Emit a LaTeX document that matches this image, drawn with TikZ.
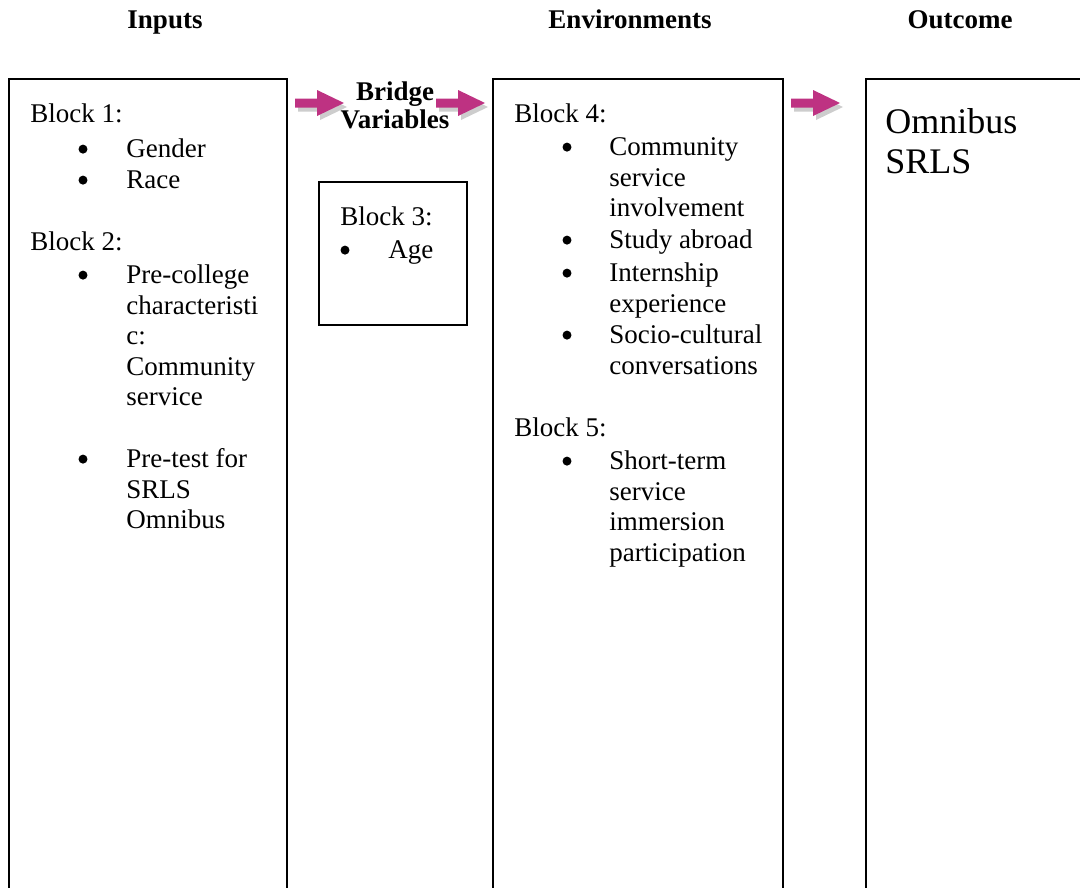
\documentclass[tikz,border=0pt]{standalone}
\usepackage{fontspec}
\setmainfont{Liberation Serif}
\usepackage{tikz}
\usetikzlibrary{positioning}

\definecolor{arrowpink}{RGB}{190,50,130}
\definecolor{shadowgray}{RGB}{205,205,205}
\newcommand{\body}{\fontsize{12}{13.6}\selectfont}
\newcommand{\pinkarrow}[2]{% start x, centre y
  \fill[shadowgray,shift={(#1+3,#2+4)}] (0,-4.5) -- (22,-4.5) -- (22,-13) -- (49,0) -- (22,13) -- (22,4.5) -- (0,4.5) -- cycle;
  \fill[arrowpink,shift={(#1,#2)}] (0,-4.5) -- (22,-4.5) -- (22,-13) -- (49,0) -- (22,13) -- (22,4.5) -- (0,4.5) -- cycle;}

\begin{document}
\begin{tikzpicture}[x=0.4444pt,y=-0.4444pt,
    txt/.style={anchor=base west,inner sep=0pt,font=\body},
    lst/.style={anchor=north west,inner sep=0pt,align=left,font=\body,yshift=9.52pt},
    dot/.style={circle,fill=black,inner sep=0pt,minimum size=4pt,yshift=3.5pt},
    head/.style={anchor=base,inner sep=0pt,font=\body\bfseries},
    frame/.style={draw=black,line width=0.9pt}]
  \useasboundingbox (0,0) rectangle (1080,888);

  %headings
  \node[head] (inputs) at (165,28) {Inputs};
  \node[head] (envs) at (630,28) {Environments};
  \node[head] (outcome) at (960,28) {Outcome};

  %columns
  \draw[frame] (9,888) |- (287,79) -- (287,888);
  \draw[frame] (493,888) |- (783,79) -- (783,888);
  \draw[frame] (866,888) |- (1082,79);
  \draw[frame] (319,182) rectangle (467,325);

  %arrows
  \pinkarrow{295}{103}
  \pinkarrow{436}{103}
  \pinkarrow{791}{103}
  \node[anchor=north,inner sep=0pt,align=center,font=\fontsize{12}{12.6}\selectfont\bfseries,yshift=8.8pt] (bridge) at (395,100) {\strut Bridge\\Variables};

  %inputs
  \node[txt] (blk1) at (30,123) {Block 1:};
  \node[dot] (d1) at (83,157) {};
  \node[txt] (gender) at (126,157) {Gender};
  \node[dot] (d2) at (83,188) {};
  \node[txt] (race) at (126,188) {Race};
  \node[txt] (blk2) at (30,250) {Block 2:};
  \node[dot] (d3) at (83,283) {};
  \node[lst] (precol) at (126,283) {\strut Pre-college\\characteristi\\c:\\Community\\service};
  \node[dot] (d4) at (83,467) {};
  \node[lst] (pretest) at (126,467) {\strut Pre-test for\\SRLS\\Omnibus};

  %bridge block
  \node[txt] (blk3) at (340,225) {Block 3:};
  \node[dot] (d5) at (345,258) {};
  \node[txt] (age) at (388,258) {Age};

  %environments
  \node[txt] (blk4) at (514,122) {Block 4:};
  \node[dot] (d6) at (567,155) {};
  \node[lst] (commserv) at (609,155) {\strut Community\\service\\involvement};
  \node[dot] (d7) at (567,248) {};
  \node[txt] (abroad) at (609,248) {Study abroad};
  \node[dot] (d8) at (567,281) {};
  \node[lst] (intern) at (609,281) {\strut Internship\\experience};
  \node[dot] (d9) at (567,343) {};
  \node[lst] (socio) at (609,343) {\strut Socio-cultural\\conversations};
  \node[txt] (blk5) at (514,436) {Block 5:};
  \node[dot] (d10) at (567,469) {};
  \node[lst] (immersion) at (609,469) {\strut Short-term\\service\\immersion\\participation};

  %outcome
  \node[lst,font=\fontsize{16}{17.8}\selectfont,yshift=2.94pt] (srls) at (885,133) {\strut Omnibus\\SRLS};
\end{tikzpicture}
\end{document}
